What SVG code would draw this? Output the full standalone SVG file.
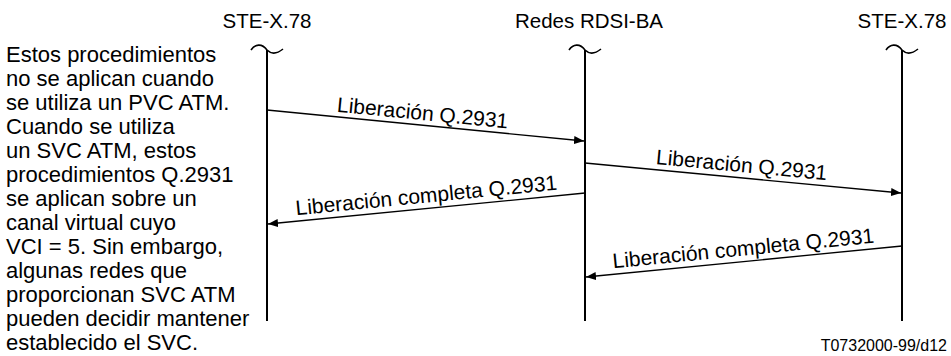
<svg xmlns="http://www.w3.org/2000/svg" width="951" height="356" viewBox="0 0 951 356">
<style>
text{font-family:"Liberation Sans",Arial,sans-serif;fill:#000}
.hd{font-size:20.5px;text-anchor:middle}
.lb{font-size:21px;text-anchor:middle}
.note{font-size:22px}
.foot{font-size:16px;text-anchor:end}
.life{fill:none;stroke:#000;stroke-width:2}
.tilde{fill:none;stroke:#000;stroke-width:1.6}
.msg{fill:none;stroke:#000;stroke-width:1.3}
</style>
<defs>
<marker id="ah" viewBox="0 0 10 8" refX="10" refY="4" markerWidth="10" markerHeight="8" markerUnits="userSpaceOnUse" orient="auto">
<path d="M0,0 L10,4 L0,8 Z" fill="#000"/>
</marker>
</defs>
<rect width="951" height="356" fill="#fff"/>
<g id="ste-left">
<text class="hd" x="267" y="28">STE-X.78</text>
<path class="tilde" d="M251,50 C255,44 262,43 267,50 C272,55 278,53 283,49"/>
<line class="life" x1="267" y1="50" x2="267" y2="321"/>
</g>
<g id="redes">
<text class="hd" x="589" y="28">Redes RDSI-BA</text>
<path class="tilde" d="M569,50 C573,44 580,43 585,50 C590,55 596,53 601,49"/>
<line class="life" x1="585" y1="50" x2="585" y2="321"/>
</g>
<g id="ste-right">
<text class="hd" x="902" y="28">STE-X.78</text>
<path class="tilde" d="M886,50 C890,44 897,43 902,50 C907,55 913,53 918,49"/>
<line class="life" x1="902" y1="50" x2="902" y2="321"/>
</g>
<g id="note">
<text class="note" x="6" y="62">Estos procedimientos</text>
<text class="note" x="6" y="86">no se aplican cuando</text>
<text class="note" x="6" y="110">se utiliza un PVC ATM.</text>
<text class="note" x="6" y="134">Cuando se utiliza</text>
<text class="note" x="6" y="158">un SVC ATM, estos</text>
<text class="note" x="6" y="182">procedimientos Q.2931</text>
<text class="note" x="6" y="206">se aplican sobre un</text>
<text class="note" x="6" y="230">canal virtual cuyo</text>
<text class="note" x="6" y="254">VCI = 5. Sin embargo,</text>
<text class="note" x="6" y="278">algunas redes que</text>
<text class="note" x="6" y="302">proporcionan SVC ATM</text>
<text class="note" x="6" y="326">pueden decidir mantener</text>
<text class="note" x="6" y="350">establecido el SVC.</text>
</g>
<g id="connectors">
<line class="msg" x1="267" y1="110" x2="584" y2="141" marker-end="url(#ah)"/>
<text class="lb" x="422" y="120" transform="rotate(5.6 422 120)">Liberación Q.2931</text>
<line class="msg" x1="585" y1="193" x2="268" y2="224" marker-end="url(#ah)"/>
<text class="lb" x="427" y="202.5" transform="rotate(-5.6 427 202.5)">Liberación completa Q.2931</text>
<line class="msg" x1="585" y1="163" x2="901" y2="193" marker-end="url(#ah)"/>
<text class="lb" x="741" y="172" transform="rotate(5.4 741 172)">Liberación Q.2931</text>
<line class="msg" x1="902" y1="246" x2="586" y2="277" marker-end="url(#ah)"/>
<text class="lb" x="744" y="255.5" transform="rotate(-5.6 744 255.5)">Liberación completa Q.2931</text>
</g>
<text class="foot" x="947" y="351">T0732000-99/d12</text>
</svg>
